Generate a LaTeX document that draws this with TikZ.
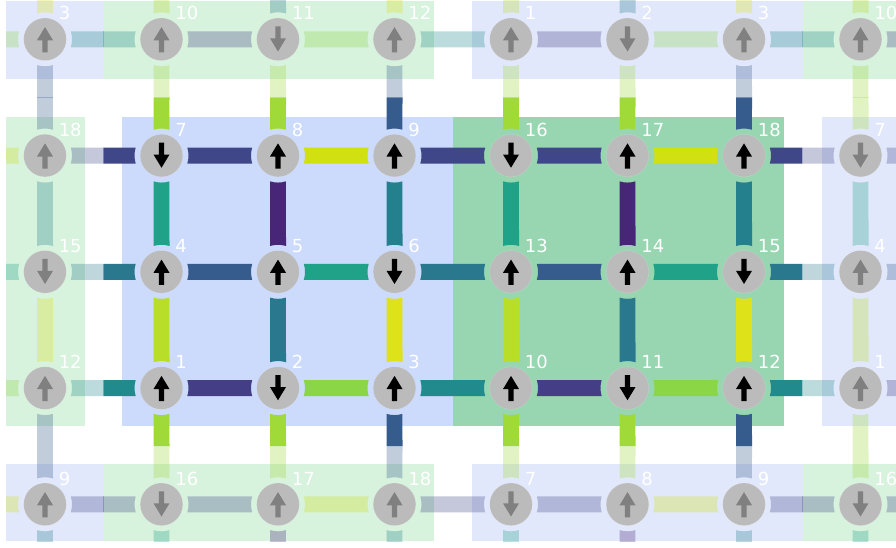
\documentclass[tikz,border=0pt]{standalone}
\usepackage{fontspec}
\setmainfont{DejaVu Sans}
\usetikzlibrary{calc}
\pgfdeclarelayer{under}
\pgfsetlayers{under,main}
\definecolor{recta}{HTML}{CCDAFC}
\definecolor{rectb}{HTML}{97D6B1}
\definecolor{ghosta}{HTML}{E2E8FB}
\definecolor{ghostb}{HTML}{D7F2DD}
\definecolor{sitegrey}{HTML}{BBBBBB}
\definecolor{arrowgrey}{HTML}{808080}
\definecolor{bD}{HTML}{433E85}
\definecolor{bG}{HTML}{8BD646}
\definecolor{bT}{HTML}{218A8D}
\definecolor{bY}{HTML}{D0E011}
\definecolor{bB}{HTML}{3F4788}
\definecolor{bQ}{HTML}{1FA287}
\definecolor{bC}{HTML}{2A788E}
\definecolor{bN}{HTML}{365C8D}
\definecolor{bU}{HTML}{DDE318}
\definecolor{bL}{HTML}{B8DE29}
\definecolor{bA}{HTML}{A0DA39}
\definecolor{bV}{HTML}{24808D}
\definecolor{bP}{HTML}{482677}
\tikzset{
  x=1pt,y=1pt,
  site/.style={circle,inner sep=0pt,minimum size=42.6pt,fill=sitegrey,draw=white,draw opacity=.15,line width=.6pt},
  sitelabel/.style={anchor=base west,inner sep=0pt,text=white,font=\fontsize{18}{18}\selectfont},
  seam/.style={opacity=.3,line width=.5pt}
}
% opacity of a half bar by the site it starts from
\newcommand{\siteopacity}[2]{\pgfmathsetmacro\opac{((#1>=2)&&(#1<=7)&&(#2>=2)&&(#2<=4))?1:0.3}}
\newcommand{\hbarlink}[5]{%
  \ifdim #4pt=#5pt
    \fill[#3,opacity=#4] ($(#1.center)+(25.8,-8)$) arc[start angle=-17.2,end angle=17.2,radius=27pt]
      -- ($(#2.center)+(-25.8,8)$) arc[start angle=162.8,end angle=197.2,radius=27pt] -- cycle;
  \else
    \fill[#3,opacity=#4] ($(#1.center)+(25.8,-8)$) arc[start angle=-17.2,end angle=17.2,radius=27pt]
      -- ($($(#1.center)!.5!(#2.center)$)+(0,8)$) -- ($($(#1.center)!.5!(#2.center)$)+(0,-8)$) -- cycle;
    \fill[#3,opacity=#5] ($(#2.center)+(-25.8,-8)$) arc[start angle=197.2,end angle=162.8,radius=27pt]
      -- ($($(#1.center)!.5!(#2.center)$)+(0,8)$) -- ($($(#1.center)!.5!(#2.center)$)+(0,-8)$) -- cycle;
  \fi
}
\newcommand{\vbarlink}[5]{%
  \ifdim #4pt=#5pt
    \fill[#3,opacity=#4] ($(#1.center)+(-8,-25.8)$) arc[start angle=-107.2,end angle=-72.8,radius=27pt]
      -- ($(#2.center)+(8,25.8)$) arc[start angle=72.8,end angle=107.2,radius=27pt] -- cycle;
  \else
    \fill[#3,opacity=#4] ($(#1.center)+(-8,-25.8)$) arc[start angle=-107.2,end angle=-72.8,radius=27pt]
      -- ($($(#1.center)!.5!(#2.center)$)+(8,0)$) -- ($($(#1.center)!.5!(#2.center)$)+(-8,0)$) -- cycle;
    \fill[#3,opacity=#5] ($(#2.center)+(-8,25.8)$) arc[start angle=107.2,end angle=72.8,radius=27pt]
      -- ($($(#1.center)!.5!(#2.center)$)+(8,0)$) -- ($($(#1.center)!.5!(#2.center)$)+(-8,0)$) -- cycle;
  \fi
}
\begin{document}
\begin{tikzpicture}
\useasboundingbox (0,0) rectangle (896,547);

% off-frame periodic images, the free ends of the stubs
\foreach \cc in {0,...,9}{
  \foreach \rr in {0,6}{
    \coordinate (n\cc\rr) at ({45+116.5*(\cc-1)},{547-39.3-116.25*(\rr-1)});
  }
}
\foreach \cc in {0,9}{
  \foreach \rr in {1,...,5}{
    \coordinate (n\cc\rr) at ({45+116.5*(\cc-1)},{547-39.3-116.25*(\rr-1)});
  }
}

% sites
\foreach \rr/\lst in {
  1/{3/1,10/1,11/-1,12/1,1/1,2/-1,3/1,10/1},
  2/{18/1,7/-1,8/1,9/1,16/-1,17/1,18/1,7/-1},
  3/{15/-1,4/1,5/1,6/-1,13/1,14/1,15/-1,4/1},
  4/{12/1,1/1,2/-1,3/1,10/1,11/-1,12/1,1/1},
  5/{9/1,16/-1,17/1,18/1,7/-1,8/1,9/1,16/-1}}{
  \foreach \lab/\dirn [count=\cc] in \lst {
    \pgfmathtruncatemacro\isreal{((\cc>=2)&&(\cc<=7)&&(\rr>=2)&&(\rr<=4))?1:0}
    \ifnum\isreal=1 \def\arrc{black}\else\def\arrc{arrowgrey}\fi
    \node[site] (n\cc\rr) at ({45+116.5*(\cc-1)},{547-39.3-116.25*(\rr-1)}) {};
    \fill[\arrc,shift={(n\cc\rr.center)},yscale=\dirn]
      (0,12.2) -- (8,-1) -- (2.7,-1) -- (2.7,-13) -- (-2.7,-13) -- (-2.7,-1) -- (-8,-1) -- cycle;
    \node[sitelabel] (l\cc\rr) at ($(n\cc\rr.center)+(13.6,19.3)$) {\lab};
  }
}

\begin{pgfonlayer}{under}
  \fill[white] (0,0) rectangle (896,547);
  % cells
  \fill[recta]  (122,121) rectangle (453,430);
  \fill[rectb]  (453,121) rectangle (784,430);
  \fill[ghostb] (6,121)   rectangle (85,430);
  \fill[ghosta] (822,121) rectangle (896,430);
  \foreach \yy/\yt in {468/546,6/83}{
    \fill[ghosta] (6,\yy)   rectangle (104,\yt);
    \fill[ghostb] (104,\yy) rectangle (434,\yt);
    \fill[ghosta] (472,\yy) rectangle (803,\yt);
    \fill[ghostb] (803,\yy) rectangle (896,\yt);
  }
  \clip (6,6) rectangle (896,546);
  % horizontal bars
  \foreach \rr/\lst in {
    1/{bG,bT,bD,bG,bT,bD,bG,bT,bD},
    2/{bY,bB,bB,bY,bB,bB,bY,bB,bB},
    3/{bQ,bC,bN,bQ,bC,bN,bQ,bC,bN},
    4/{bG,bT,bD,bG,bT,bD,bG,bT,bD},
    5/{bY,bB,bB,bY,bB,bB,bY,bB,bB}}{
    \foreach \col [count=\kk from 0] in \lst {
      \pgfmathtruncatemacro\nx{\kk+1}
      \siteopacity{\kk}{\rr}\let\opa\opac
      \siteopacity{\nx}{\rr}\let\opb\opac
      \hbarlink{n\kk\rr}{n\nx\rr}{\col}{\opa}{\opb}
    }
  }
  % vertical bars
  \foreach \rr/\lst in {
    0/{bU,bL,bC,bU,bL,bC,bU,bL},
    1/{bN,bA,bA,bN,bA,bA,bN,bA},
    2/{bV,bQ,bP,bV,bQ,bP,bV,bQ},
    3/{bU,bL,bC,bU,bL,bC,bU,bL},
    4/{bN,bA,bA,bN,bA,bA,bN,bA},
    5/{bV,bQ,bP,bV,bQ,bP,bV,bQ}}{
    \foreach \col [count=\cc] in \lst {
      \pgfmathtruncatemacro\ny{\rr+1}
      \siteopacity{\cc}{\rr}\let\opa\opac
      \siteopacity{\cc}{\ny}\let\opb\opac
      \vbarlink{n\cc\rr}{n\cc\ny}{\col}{\opa}{\opb}
    }
  }
  % seams where two images of a bar meet
  \foreach \pa/\pb/\col in {n11/n12/bN,n81/n82/bA}{
    \draw[\col,seam] ($($(\pa.center)!.5!(\pb.center)$)+(-8,0)$) -- ($($(\pa.center)!.5!(\pb.center)$)+(8,0)$);
  }
  \foreach \pa/\pb/\col in {n11/n21/bT,n71/n81/bT,n15/n25/bB,n75/n85/bB}{
    \draw[\col,seam] ($($(\pa.center)!.5!(\pb.center)$)+(0,-8)$) -- ($($(\pa.center)!.5!(\pb.center)$)+(0,8)$);
  }
\end{pgfonlayer}
\end{tikzpicture}
\end{document}
